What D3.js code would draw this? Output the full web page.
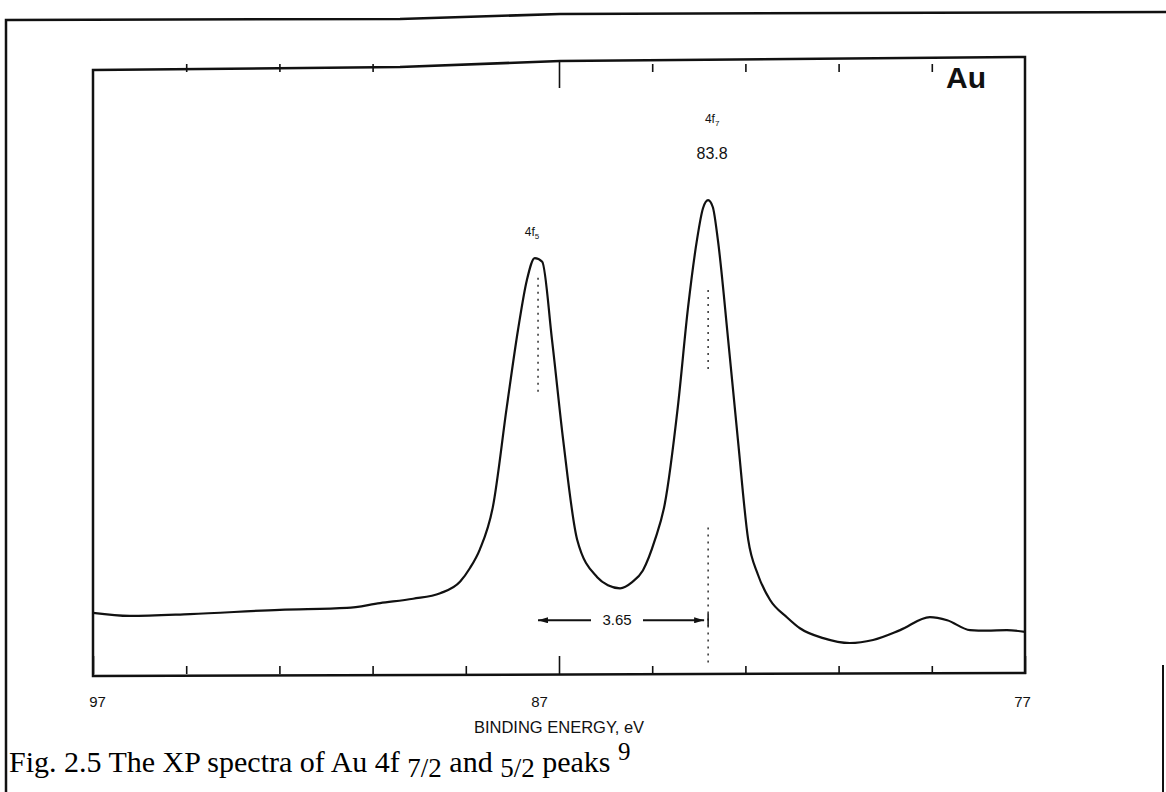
<!DOCTYPE html>
<html>
<head>
<meta charset="utf-8">
<script src="https://cdn.jsdelivr.net/npm/d3@7"></script>
<style>
  html, body { margin: 0; padding: 0; background: #fff; }
  svg { display: block; }
</style>
</head>
<body>
<svg id="chart" width="1166" height="792"></svg>
<script>
// ---- data ----
const bindingEnergy = [97.00, 96.21, 94.92, 92.99, 91.55, 90.84, 90.13, 89.55, 89.12, 88.91, 88.70, 88.42, 88.12, 87.88, 87.69, 87.52, 87.36, 87.15, 86.91, 86.61, 86.18, 85.95, 85.69, 85.43, 85.20, 84.94, 84.73, 84.45, 84.23, 84.04, 83.91, 83.80, 83.70, 83.59, 83.37, 83.16, 82.94, 82.73, 82.47, 82.11, 81.83, 81.33, 80.76, 80.26, 79.68, 79.04, 78.67, 78.18, 77.82, 77.39, 77.00];
const intensity     = [10.1, 9.6, 9.9, 10.6, 10.9, 11.7, 12.4, 13.3, 15.2, 17.4, 20.4, 27.3, 43.6, 56.1, 64.2, 67.8, 67.2, 54.5, 38.2, 22.0, 15.9, 14.6, 14.1, 15.1, 17.0, 22.0, 27.8, 43.6, 59.8, 70.7, 75.9, 77.2, 76.1, 70.7, 54.5, 38.2, 22.0, 16.3, 12.2, 9.4, 7.6, 6.0, 5.2, 5.7, 7.3, 9.4, 8.9, 7.3, 7.2, 7.3, 7.0];

const majorTicks = [97, 87, 77];
const majorTickLabels = ["97", "87", "77"];
const minorTicks = [95, 93, 91, 89, 85, 83, 81, 79];

const peakPositions = [87.45, 83.8];
const peakLabelSubs = ["5", "7"];
const peakValueLabel = "83.8";
const splitting = "3.65";
const elementLabel = "Au";
const xTitle = "BINDING ENERGY, eV";

// ---- layout ----
const svg = d3.select("#chart");
const L = 93, R = 1025, T = 62, B = 675;

const x = d3.scaleLinear().domain([97, 77]).range([L, R]);
const y = d3.scaleLinear().domain([0, 100]).range([B, 60]);

const ink = "#111";

// outer frame (scanned page border)
svg.append("path")
  .attr("d", "M6,792 L6,20 L400,19 L560,14 L1166,12")
  .attr("fill", "none").attr("stroke", ink).attr("stroke-width", 2.5);
svg.append("line")
  .attr("x1", 1163).attr("x2", 1163).attr("y1", 665).attr("y2", 792)
  .attr("stroke", ink).attr("stroke-width", 2);

// plot box
svg.append("path")
  .attr("d", `M${L},676 L${L},70 L400,67 L560,61 L${R},57 L${R},673 Z`)
  .attr("fill", "none").attr("stroke", ink).attr("stroke-width", 2.5);

// bottom axis: minor + major ticks, inward
const bottomMinor = d3.axisBottom(x).tickValues(minorTicks).tickSize(-8).tickFormat("");
const bottomMajor = d3.axisBottom(x).tickValues(majorTicks).tickSize(-18)
  .tickFormat((d, i) => majorTickLabels[i]).tickPadding(22);
const gb1 = svg.append("g").attr("transform", `translate(0,${B - 1})`).call(bottomMinor);
const gb2 = svg.append("g").attr("transform", `translate(0,${B - 1})`).call(bottomMajor);
[gb1, gb2].forEach(g => {
  g.select(".domain").remove();
  g.selectAll(".tick line").attr("stroke", ink).attr("stroke-width", 1.6);
});
gb2.selectAll(".tick text")
  .attr("font-family", "Liberation Sans, Arial, sans-serif")
  .attr("font-size", 15).attr("fill", ink)
  .attr("dx", (d, i) => [4, -20, -3][i]);

// top axis ticks, inward
const topMinor = d3.axisTop(x).tickValues(minorTicks.filter(d => d !== 89)).tickSize(-8).tickFormat("");
const topMajor = d3.axisTop(x).tickValues([87]).tickSize(-26).tickFormat("");
const gt1 = svg.append("g").attr("transform", `translate(0,${T + 2})`).call(topMinor);
const gt2 = svg.append("g").attr("transform", `translate(0,${T})`).call(topMajor);
[gt1, gt2].forEach(g => {
  g.select(".domain").remove();
  g.selectAll(".tick line").attr("stroke", ink).attr("stroke-width", 1.6);
});

// x axis title
svg.append("text")
  .attr("x", (L + R) / 2).attr("y", 733)
  .attr("text-anchor", "middle")
  .attr("font-family", "Liberation Sans, Arial, sans-serif")
  .attr("font-size", 16.5).attr("fill", ink)
  .text(xTitle);

// spectrum
const pts = bindingEnergy.map((e, i) => [e, intensity[i]]);
const line = d3.line().x(d => x(d[0])).y(d => y(d[1])).curve(d3.curveMonotoneX);
svg.append("path").datum(pts)
  .attr("d", line)
  .attr("fill", "none").attr("stroke", ink).attr("stroke-width", 2.2)
  .attr("stroke-linejoin", "round");

// dotted peak markers
const dotted = [
  [peakPositions[0], 64.6, 46.0],
  [peakPositions[1], 62.6, 49.0],
  [peakPositions[1], 24.0, 1.5]
];
svg.selectAll("line.peakmark").data(dotted).join("line")
  .attr("class", "peakmark")
  .attr("x1", d => x(d[0])).attr("x2", d => x(d[0]))
  .attr("y1", d => y(d[1])).attr("y2", d => y(d[2]))
  .attr("stroke", ink).attr("stroke-width", 1.3)
  .attr("stroke-dasharray", "2,5");

// peak labels "4f" with subscript
const labelPos = [[peakPositions[0], 236], [peakPositions[1], 123]];
labelPos.forEach((p, i) => {
  const t = svg.append("text")
    .attr("x", x(p[0]) + (i === 0 ? -6 : 4)).attr("y", p[1])
    .attr("text-anchor", "middle")
    .attr("font-family", "Liberation Sans, Arial, sans-serif")
    .attr("font-size", 12).attr("fill", ink);
  t.append("tspan").text("4f");
  t.append("tspan").attr("font-size", 8).attr("dy", 3).text(peakLabelSubs[i]);
});
svg.append("text")
  .attr("x", x(peakPositions[1]) + 4).attr("y", 159)
  .attr("text-anchor", "middle")
  .attr("font-family", "Liberation Sans, Arial, sans-serif")
  .attr("font-size", 16).attr("fill", ink)
  .text(peakValueLabel);

// splitting arrow
const defs = svg.append("defs");
defs.append("marker").attr("id", "arr")
  .attr("viewBox", "0 0 10 6").attr("refX", 10).attr("refY", 3)
  .attr("markerWidth", 10).attr("markerHeight", 6)
  .attr("markerUnits", "userSpaceOnUse")
  .attr("orient", "auto")
  .append("path").attr("d", "M0,0 L10,3 L0,6 Z").attr("fill", ink);
const arrowY = y(8.9);
const midX = 617;
svg.append("line")
  .attr("x1", midX - 26).attr("x2", x(peakPositions[0]))
  .attr("y1", arrowY).attr("y2", arrowY)
  .attr("stroke", ink).attr("stroke-width", 1.8).attr("marker-end", "url(#arr)");
svg.append("line")
  .attr("x1", midX + 26).attr("x2", x(peakPositions[1]) - 4)
  .attr("y1", arrowY).attr("y2", arrowY)
  .attr("stroke", ink).attr("stroke-width", 1.8).attr("marker-end", "url(#arr)");
svg.append("line")
  .attr("x1", x(peakPositions[1])).attr("x2", x(peakPositions[1]))
  .attr("y1", arrowY - 7).attr("y2", arrowY + 6)
  .attr("stroke", ink).attr("stroke-width", 1.5);
svg.append("text")
  .attr("x", midX).attr("y", arrowY + 5)
  .attr("text-anchor", "middle")
  .attr("font-family", "Liberation Sans, Arial, sans-serif")
  .attr("font-size", 15).attr("fill", ink)
  .text(splitting);

// element label
svg.append("text")
  .attr("x", 966).attr("y", 88)
  .attr("text-anchor", "middle")
  .attr("font-family", "Liberation Sans, Arial, sans-serif")
  .attr("font-size", 30).attr("font-weight", "bold").attr("fill", ink)
  .text(elementLabel);

// caption
const cap = svg.append("text")
  .attr("x", 9).attr("y", 772)
  .attr("font-family", "Liberation Serif, Times New Roman, serif")
  .attr("font-size", 30).attr("fill", "#000");
cap.append("tspan").text("Fig. 2.5 The XP spectra of Au 4f ");
cap.append("tspan").attr("font-size", 27).attr("dy", 5).text("7/2");
cap.append("tspan").attr("dy", -5).text(" and ");
cap.append("tspan").attr("font-size", 27).attr("dy", 5).text("5/2");
cap.append("tspan").attr("dy", -5).text(" peaks ");
cap.append("tspan").attr("font-size", 25).attr("dy", -12).text("9");
</script>
</body>
</html>
